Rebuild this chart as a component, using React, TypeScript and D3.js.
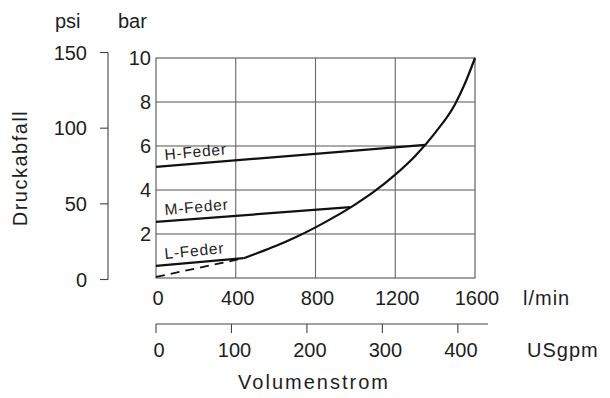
import * as d3 from "d3";

// flow in l/min, pressure drop in bar
const mainFlow = [440, 500, 600, 700, 800, 900, 1000, 1100, 1200, 1300, 1400, 1500, 1550, 1600];
const mainBar = [0.9, 1.1, 1.45, 1.85, 2.3, 2.8, 3.35, 3.97, 4.7, 5.55, 6.6, 7.9, 8.85, 10];
const dashFlow = [0, 440];
const dashBar = [0.05, 0.9];

const springNames = ["L-Feder", "M-Feder", "H-Feder"];
const springFlow = [[0, 440], [0, 975], [0, 1350]];
const springBar = [[0.55, 0.9], [2.55, 3.22], [5.05, 6.05]];

const flowTicks = [0, 400, 800, 1200, 1600];
const barTicks = [2, 4, 6, 8, 10];
const barGrid = [2, 4, 6, 8];
const psiTicks = [0, 50, 100, 150];
const gpmTicks = [0, 100, 200, 300, 400];
const gpmMax = 440;
const litrePerGal = 3.785;

const font = "'Liberation Sans', Arial, sans-serif";
const txt = "#1e1e1e";

export default function App() {
  const x = d3.scaleLinear().domain([0, 1600]).range([156, 475]);
  const y = d3.scaleLinear().domain([0, 10]).range([278, 58]);
  const yPsi = d3.scaleLinear().domain([0, 150]).range([279.5, 52.5]);
  const xGpm = (g: number) => x(g * litrePerGal);

  const smooth = d3
    .line<[number, number]>()
    .x((d) => x(d[0]))
    .y((d) => y(d[1]))
    .curve(d3.curveMonotoneX);
  const mainPath = smooth(mainFlow.map((f, i) => [f, mainBar[i]] as [number, number]));
  const straight = d3
    .line<[number, number]>()
    .x((d) => x(d[0]))
    .y((d) => y(d[1]));
  const dashPath = straight(dashFlow.map((f, i) => [f, dashBar[i]] as [number, number]));

  const [x0, x1] = x.range();
  const [yb, yt] = y.range();

  return (
    <svg
      width={610}
      height={398}
      style={{ position: "absolute", left: 0, top: 0, background: "#fff" }}
      fontFamily={font}
    >
      {/* grid */}
      <g stroke="#555" strokeWidth={1.1}>
        {barGrid.map((b) => (
          <line key={"h" + b} x1={x0} x2={x1} y1={y(b)} y2={y(b)} />
        ))}
        {flowTicks.slice(1, -1).map((f) => (
          <line key={"v" + f} x1={x(f)} x2={x(f)} y1={yt} y2={yb} stroke="#666" />
        ))}
        <rect x={x0} y={yt} width={x1 - x0} height={yb - yt} fill="none" />
      </g>

      {/* spring lines and main curve */}
      <g stroke="#111" strokeWidth={2.2} fill="none">
        {springNames.map((n, i) => (
          <path
            key={n}
            d={straight(springFlow[i].map((f, j) => [f, springBar[i][j]] as [number, number])) || ""}
          />
        ))}
        <path d={mainPath || ""} />
        <path d={dashPath || ""} strokeWidth={1.8} strokeDasharray="9 6" />
      </g>

      {/* spring labels */}
      {springNames.map((n, i) => {
        const fx = springFlow[i];
        const by = springBar[i];
        const ang =
          (Math.atan2(y(by[1]) - y(by[0]), x(fx[1]) - x(fx[0])) * 180) / Math.PI;
        const lx = x(fx[0]) + 9;
        const ly = y(by[0]) - 7;
        return (
          <text
            key={n}
            x={lx}
            y={ly}
            fontSize={15.5}
            letterSpacing={0.8}
            fill={txt}
            transform={`rotate(${ang * 1.1}, ${lx}, ${ly})`}
          >
            {n}
          </text>
        );
      })}

      {/* bar labels */}
      {barTicks.map((b) => (
        <text key={"b" + b} x={151} y={y(b) + 7} textAnchor="end" fontSize={20} fill={txt}>
          {b}
        </text>
      ))}

      {/* psi axis */}
      <g stroke="#444" strokeWidth={1.1}>
        <line x1={108} x2={108} y1={yPsi(150)} y2={yPsi(0)} />
        {psiTicks.map((p) => (
          <line key={"pt" + p} x1={100} x2={108} y1={yPsi(p)} y2={yPsi(p)} />
        ))}
      </g>
      {psiTicks.map((p) => (
        <text key={"p" + p} x={87} y={yPsi(p) + 7} textAnchor="end" fontSize={20} fill={txt}>
          {p}
        </text>
      ))}

      <text x={55} y={28} fontSize={20} fill={txt}>psi</text>
      <text x={118} y={28} fontSize={20} fill={txt}>bar</text>
      <text
        transform={`translate(27, 168) rotate(-90)`}
        textAnchor="middle"
        fontSize={20}
        letterSpacing={1.5}
        fill={txt}
      >
        Druckabfall
      </text>

      {/* flow labels */}
      {flowTicks.map((f) => (
        <text key={"f" + f} x={x(f) + 2} y={305} textAnchor="middle" fontSize={20} fill={txt}>
          {f}
        </text>
      ))}
      <text x={523} y={305} fontSize={20} letterSpacing={1} fill={txt}>l/min</text>

      {/* USgpm axis */}
      <g stroke="#444" strokeWidth={1.1}>
        <line x1={xGpm(0)} x2={xGpm(gpmMax)} y1={324} y2={324} />
        {gpmTicks.map((g) => (
          <line key={"gt" + g} x1={xGpm(g)} x2={xGpm(g)} y1={324} y2={333} />
        ))}
      </g>
      {gpmTicks.map((g) => (
        <text key={"g" + g} x={xGpm(g) + 3} y={357} textAnchor="middle" fontSize={20} fill={txt}>
          {g}
        </text>
      ))}
      <text x={527} y={357} fontSize={20} letterSpacing={1} fill={txt}>USgpm</text>
      <text x={314} y={389} textAnchor="middle" fontSize={20} letterSpacing={2} fill={txt}>
        Volumenstrom
      </text>
    </svg>
  );
}
